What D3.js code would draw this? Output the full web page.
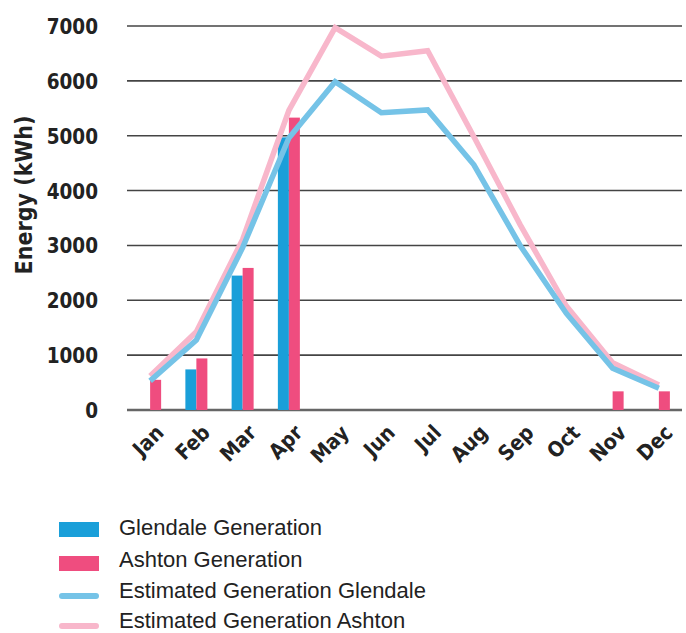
<!DOCTYPE html>
<html><head><meta charset="utf-8">
<script src="https://cdn.jsdelivr.net/npm/d3@7/dist/d3.min.js"></script>
<style>body{margin:0;background:#fff}svg{display:block}</style>
</head><body>
<script>
const months = ["Jan","Feb","Mar","Apr","May","Jun","Jul","Aug","Sep","Oct","Nov","Dec"];
const glendaleGen = [0,740,2450,4970,0,0,0,0,0,0,0,0];
const ashtonGen = [550,940,2590,5330,0,0,0,0,0,0,340,340];
const estGlendale = [530,1275,2960,4960,5985,5420,5470,4470,3000,1760,760,395];
const estAshton = [620,1425,3110,5460,6970,6450,6550,4980,3380,1895,860,455];
const yTicks = [0,1000,2000,3000,4000,5000,6000,7000];
const legendLabels = ["Glendale Generation","Ashton Generation","Estimated Generation Glendale","Estimated Generation Ashton"];

const W=686,H=633;
const svg=d3.select("body").append("svg").attr("width",W).attr("height",H);
const x=d3.scaleBand().domain(months).range([127,682]).padding(0);
const y=d3.scaleLinear().domain([0,7000]).range([410,26]);
const sub=d3.scaleBand().domain(["g","a"]).range([-11,11]);

// grid
svg.append("g").selectAll("line").data(yTicks).join("line")
  .attr("x1",127).attr("x2",682)
  .attr("y1",d=>y(d)).attr("y2",d=>y(d))
  .attr("stroke",d=>d===0?"#666":"#444").attr("stroke-width",d=>d===0?2.5:1.6);

// y tick labels
svg.append("g").selectAll("text").data(yTicks).join("text")
  .attr("x",98).attr("y",d=>y(d)+8).attr("text-anchor","end")
  .attr("font-family","DejaVu Sans Condensed, DejaVu Sans").attr("font-weight","bold")
  .attr("font-size",20.5).attr("fill","#222").text(d=>d);

// y title
svg.append("text").attr("transform","translate(32,195) rotate(-90)")
  .attr("text-anchor","middle").attr("font-family","DejaVu Sans Condensed, DejaVu Sans")
  .attr("font-weight","bold").attr("font-size",23).attr("fill","#222").text("Energy (kWh)");

// x labels
svg.append("g").selectAll("text").data(months).join("text")
  .attr("transform",d=>`translate(${x(d)+x.bandwidth()/2+15},434) rotate(-45)`)
  .attr("text-anchor","end").attr("font-family","DejaVu Sans Condensed, DejaVu Sans")
  .attr("font-weight","bold").attr("font-size",21).attr("fill","#222").text(d=>d);

// bars
const bars=svg.append("g");
bars.selectAll("rect.g").data(months).join("rect").attr("class","g")
  .attr("x",(d,i)=>x(d)+x.bandwidth()/2+sub("g")).attr("width",sub.bandwidth())
  .attr("y",(d,i)=>y(glendaleGen[i])).attr("height",(d,i)=>y(0)-y(glendaleGen[i]))
  .attr("fill","#1a9fd9");
bars.selectAll("rect.a").data(months).join("rect").attr("class","a")
  .attr("x",(d,i)=>x(d)+x.bandwidth()/2+sub("a")).attr("width",sub.bandwidth())
  .attr("y",(d,i)=>y(ashtonGen[i])).attr("height",(d,i)=>y(0)-y(ashtonGen[i]))
  .attr("fill","#ef4d7f");

// lines
const line=d3.line().x((d,i)=>x(months[i])+x.bandwidth()/2).y(d=>y(d));
svg.append("path").datum(estAshton).attr("d",line).attr("fill","none")
  .attr("stroke","#f8b7cb").attr("stroke-width",5.5);
svg.append("path").datum(estGlendale).attr("d",line).attr("fill","none")
  .attr("stroke","#75c3e7").attr("stroke-width",5.5);

// legend
const lg=svg.append("g");
const lys=[535,567,598,628];
lg.append("rect").attr("x",59).attr("y",522).attr("width",40).attr("height",15).attr("fill","#1a9fd9");
lg.append("rect").attr("x",59).attr("y",556).attr("width",40).attr("height",15).attr("fill","#ef4d7f");
lg.append("line").attr("x1",62).attr("x2",96).attr("y1",596).attr("y2",596)
  .attr("stroke","#75c3e7").attr("stroke-width",6).attr("stroke-linecap","round");
lg.append("line").attr("x1",62).attr("x2",96).attr("y1",626).attr("y2",626)
  .attr("stroke","#f8b7cb").attr("stroke-width",6).attr("stroke-linecap","round");
lg.selectAll("text").data(legendLabels).join("text")
  .attr("x",119).attr("y",(d,i)=>lys[i]).attr("font-family","Liberation Sans, Arial, sans-serif")
  .attr("font-size",22).attr("fill","#222").text(d=>d);
</script>
</body></html>
